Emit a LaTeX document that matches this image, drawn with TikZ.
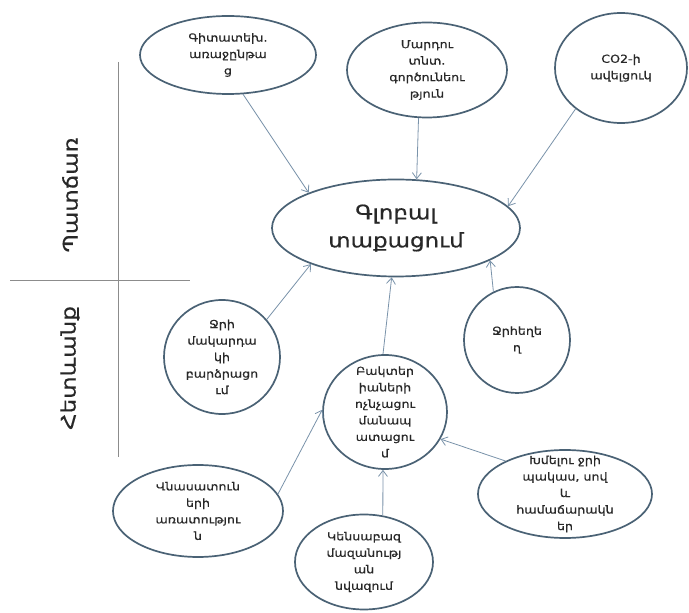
\documentclass[tikz,border=0pt]{standalone}
\usepackage{fontspec}
\newfontfamily\hyfont[FakeStretch=1.15, FakeBold=0.5]{DejaVu Sans}
\usetikzlibrary{shapes.geometric, arrows.meta}
\definecolor{rimcol}{RGB}{74,98,117}
\definecolor{wirecol}{RGB}{122,147,170}
\definecolor{inkcol}{RGB}{40,40,40}
\definecolor{rulecol}{RGB}{140,140,140}

\begin{document}
\begin{tikzpicture}[
    x=1pt, y=1pt,
    bubble/.style={ellipse, draw=rimcol, line width=1.7pt, fill=white, inner sep=-12pt, align=center, text=inkcol, font=\hyfont\fontsize{11}{16.5}\selectfont},
    hub/.style={bubble, font=\hyfont\fontsize{20}{28}\selectfont},
    side/.style={rotate=90, text=inkcol, font=\hyfont\fontsize{20}{24}\selectfont},
    wire/.style={draw=wirecol, line width=0.8pt, -{Straight Barb[length=6pt,width=9pt]}}
]
\fill[white] (0,0) rectangle (689,613);
\useasboundingbox (0,0) rectangle (689,613);

\draw[rulecol, line width=0.9pt] (118,551) -- (118,156);
\draw[rulecol, line width=0.9pt] (10,333) -- (190,333);
\node[side] (cause) at (70,418) {Պատճառ};
\node[side] (effect) at (70,245) {Հետևանք};

\node[hub, minimum width=248, minimum height=97] (glob) at (396,385) {Գլոբալ\\տաքացում};

\node[bubble, minimum width=176, minimum height=78] (tech) at (228,558) {Գիտատեխ.\\առաջընթա\\ց};
\node[bubble, minimum width=160, minimum height=95] (econ) at (427,543) {Մարդու\\տնտ.\\գործունեու\\թյուն};
\node[bubble, minimum width=132, minimum height=110] (co2) at (621,545) {CO2-ի\\ավելցուկ};

\node[bubble, minimum width=116, minimum height=114] (sea) at (222,256) {Ջրի\\մակարդա\\կի\\բարձրացո\\ւմ};
\node[bubble, minimum width=106, minimum height=106] (flood) at (517,273) {Ջրհեղե\\ղ};
\node[bubble, minimum width=124, minimum height=114] (desert) at (385,201) {Բակտեր\\իաների\\ոչնչացու\\մանապ\\ատացու\\մ};

\node[bubble, minimum width=170, minimum height=92] (pests) at (198,102) {Վնասատուն\\երի\\առատությու\\ն};
\node[bubble, minimum width=138, minimum height=95] (bio) at (364,51) {Կենսաբազ\\մազանությ\\ան\\նվազում};
\node[bubble, minimum width=174, minimum height=88] (famine) at (565,119) {Խմելու ջրի\\պակաս, սով\\և\\համաճարակն\\եր};

\draw[wire] (tech.-69) -- (glob.158);
\draw[wire] (econ.-100) -- (glob.67);
\draw[wire] (co2.-138) -- (glob.11);
\draw[wire] (sea.40) -- (glob.203);
\draw[wire] (desert.92) -- (glob.-95);
\draw[wire] (flood.116) -- (glob.-19);

\draw[wire] (pests.12) -- (desert.178);
\draw[wire] (bio.68) -- (desert.-92);
\draw[wire] (famine.151) -- (desert.-26);

\end{tikzpicture}
\end{document}
